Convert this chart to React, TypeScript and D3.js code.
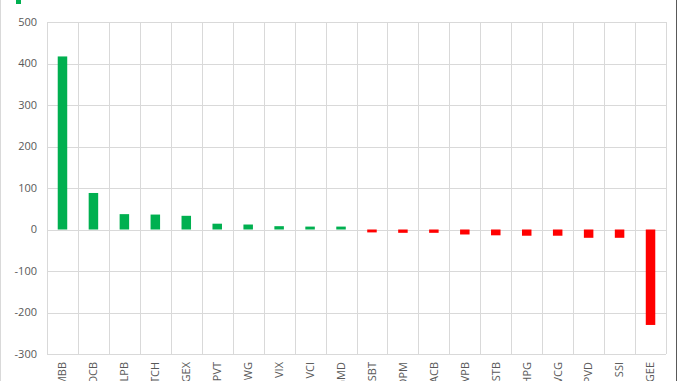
import React from "react";
import * as d3 from "d3";

const categories = ["MBB","OCB","LPB","TCH","GEX","PVT","MWG","VIX","VCI","GMD","SBT","DPM","ACB","VPB","STB","HPG","VCG","PVD","SSI","GEE"];
const values = [417, 88, 37, 36, 33, 14, 12, 8, 7, 7, -7, -8, -8, -12, -14, -15, -15, -20, -20, -230];
const yTicks = [-300, -200, -100, 0, 100, 200, 300, 400, 500];

const W = 678, H = 381;
const M = { left: 47, right: 12, top: 22, bottom: 27 };

export default function App() {
  const x = d3.scaleBand<string>().domain(categories).range([M.left, W - M.right]).paddingInner(0).paddingOuter(0);
  const y = d3.scaleLinear().domain([-300, 500]).range([H - M.bottom, M.top]);
  const bw = 9.5;
  const font = "'Open Sans', 'Noto Sans', sans-serif";
  const edges = categories.map((c) => x(c)!).concat([W - M.right]);
  return (
    <svg width={W} height={H} style={{ position: "absolute", left: 0, top: 0, display: "block" }}>
      <rect x={0} y={0} width={W} height={H} fill="#fff" />
      <rect x={0.5} y={-1} width={W - 2} height={H + 2} fill="none" stroke="#d9d9d9" />
      <line x1={W - 1.5} x2={W - 1.5} y1={0} y2={H} stroke="#595959" strokeWidth={1} />
      <rect x={16} y={-2} width={5} height={6} fill="#00B050" />
      {yTicks.map((t) => (
        <g key={t}>
          <line x1={M.left} x2={W - M.right} y1={Math.round(y(t)) + 0.5} y2={Math.round(y(t)) + 0.5} stroke="#d9d9d9" strokeWidth={1} />
          <text x={37} y={y(t)} dy="0.35em" textAnchor="end" fontSize={11} fill="#595959" fontFamily={font}>{t}</text>
        </g>
      ))}
      {edges.map((e, i) => (
        <line key={i} x1={Math.round(e) + 0.5} x2={Math.round(e) + 0.5} y1={M.top} y2={H - M.bottom} stroke="#d9d9d9" strokeWidth={1} />
      ))}
      {categories.map((c, i) => {
        const v = values[i];
        const cx = x(c)! + x.bandwidth() / 2;
        return (
          <rect key={c} x={cx - bw / 2} width={bw} y={Math.min(y(v), y(0))} height={Math.abs(y(v) - y(0))}
            fill={v >= 0 ? "#00B050" : "#FF0000"} />
        );
      })}
      {categories.map((c) => {
        const cx = x(c)! + x.bandwidth() / 2;
        return (
          <text key={c} transform={`translate(${cx},${H - M.bottom + 8}) rotate(-90)`} textAnchor="end" dy="0.35em"
            fontSize={11} fill="#595959" fontFamily={font}>{c}</text>
        );
      })}
    </svg>
  );
}
